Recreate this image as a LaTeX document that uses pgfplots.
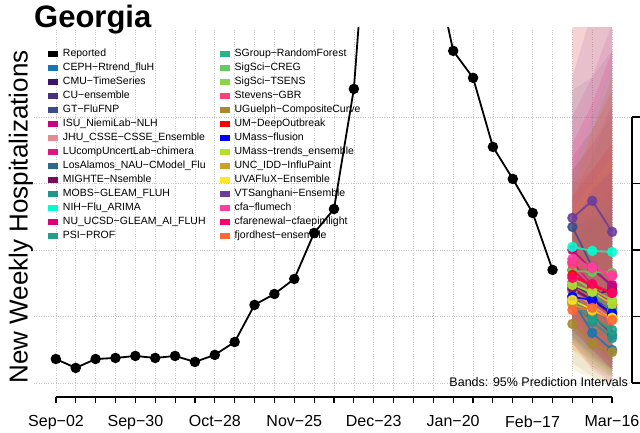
\documentclass[border=0pt]{standalone}
\usepackage{fontspec}
\setmainfont{Liberation Sans}
\usepackage{pgfplots}
\pgfplotsset{compat=1.18}

\definecolor{cCEPH}{HTML}{1878B4}
\definecolor{cCMU}{HTML}{3E1269}
\definecolor{cCU}{HTML}{48307E}
\definecolor{cGT}{HTML}{3C4C8B}
\definecolor{cISU}{HTML}{CC0085}
\definecolor{cJHU}{HTML}{E68A96}
\definecolor{cLU}{HTML}{DE1681}
\definecolor{cLA}{HTML}{2C6A8F}
\definecolor{cMIG}{HTML}{7A0E5A}
\definecolor{cMOBS}{HTML}{20958C}
\definecolor{cNIH}{HTML}{00FFD0}
\definecolor{cNU}{HTML}{E00078}
\definecolor{cPSI}{HTML}{22A085}
\definecolor{cSG}{HTML}{27B583}
\definecolor{cCREG}{HTML}{62CC5E}
\definecolor{cTSENS}{HTML}{8AD44A}
\definecolor{cSTE}{HTML}{FF3F7A}
\definecolor{cUG}{HTML}{A8892F}
\definecolor{cUM}{HTML}{FF0000}
\definecolor{cUMF}{HTML}{0000FF}
\definecolor{cUMT}{HTML}{B5E02A}
\definecolor{cUNC}{HTML}{C9A227}
\definecolor{cUVA}{HTML}{FFE61F}
\definecolor{cVT}{HTML}{6A3D9A}
\definecolor{cCFA}{HTML}{FF3EA0}
\definecolor{cCFR}{HTML}{FF0068}
\definecolor{cFJ}{HTML}{FF6633}

\pgfplotsset{sq/.style={legend image code/.code={\fill[##1] (0pt,-3pt) rectangle (10pt,3pt);}}}

\newcommand{\band}[7]{\addplot[draw=none, fill=#1, fill opacity=0.12, forget plot] coordinates {(26,#2) (27,#3) (28,#4) (28,#7) (27,#6) (26,#5)} -- cycle;}
\newcommand{\fcast}[4]{\addplot[color=#1, opacity=0.85, line width=1.8pt, mark=*, mark size=4.3pt, forget plot] coordinates {(26,#2) (27,#3) (28,#4)};}

\begin{document}
\begin{tikzpicture}
\useasboundingbox (0,0) rectangle (640pt,433pt);

\begin{axis}[
  at={(34pt,43pt)}, anchor=south west, scale only axis,
  width=600pt, height=362pt,
  xmin=-1.1, xmax=29.1, ymin=-53, ymax=2669,
  xtick={0,...,28}, ytick={0,500,1000,1500,2000},
  xticklabels={}, yticklabels={},
  xmajorgrids, ymajorgrids,
  grid style={dotted, line width=0.7pt, color=black!22},
  axis line style={draw=none}, major tick length=0pt,
  clip=true,
  legend columns=2,
  legend cell align=left,
  legend style={at={(axis description cs:0.0233,0.9467)}, anchor=north west,
    draw=none, fill=none, inner sep=0pt, outer sep=0pt,
    font=\fontsize{10.5}{12}\selectfont, row sep=0pt,
    nodes={inner sep=0pt, text height=9.5pt, text depth=4.5pt},
    /tikz/every odd column/.append style={column sep=5pt},
    /tikz/every even column/.append style={column sep=14pt}},
]
\addlegendimage{sq, fill=black, draw=none}\addlegendentry{Reported}
\addlegendimage{sq, fill=cSG, draw=none}\addlegendentry{SGroup−RandomForest}
\addlegendimage{sq, fill=cCEPH, draw=none}\addlegendentry{CEPH−Rtrend\_fluH}
\addlegendimage{sq, fill=cCREG, draw=none}\addlegendentry{SigSci−CREG}
\addlegendimage{sq, fill=cCMU, draw=none}\addlegendentry{CMU−TimeSeries}
\addlegendimage{sq, fill=cTSENS, draw=none}\addlegendentry{SigSci−TSENS}
\addlegendimage{sq, fill=cCU, draw=none}\addlegendentry{CU−ensemble}
\addlegendimage{sq, fill=cSTE, draw=none}\addlegendentry{Stevens−GBR}
\addlegendimage{sq, fill=cGT, draw=none}\addlegendentry{GT−FluFNP}
\addlegendimage{sq, fill=cUG, draw=none}\addlegendentry{UGuelph−CompositeCurve}
\addlegendimage{sq, fill=cISU, draw=none}\addlegendentry{ISU\_NiemiLab−NLH}
\addlegendimage{sq, fill=cUM, draw=none}\addlegendentry{UM−DeepOutbreak}
\addlegendimage{sq, fill=cJHU, draw=none}\addlegendentry{JHU\_CSSE−CSSE\_Ensemble}
\addlegendimage{sq, fill=cUMF, draw=none}\addlegendentry{UMass−flusion}
\addlegendimage{sq, fill=cLU, draw=none}\addlegendentry{LUcompUncertLab−chimera}
\addlegendimage{sq, fill=cUMT, draw=none}\addlegendentry{UMass−trends\_ensemble}
\addlegendimage{sq, fill=cLA, draw=none}\addlegendentry{LosAlamos\_NAU−CModel\_Flu}
\addlegendimage{sq, fill=cUNC, draw=none}\addlegendentry{UNC\_IDD−InfluPaint}
\addlegendimage{sq, fill=cMIG, draw=none}\addlegendentry{MIGHTE−Nsemble}
\addlegendimage{sq, fill=cUVA, draw=none}\addlegendentry{UVAFluX−Ensemble}
\addlegendimage{sq, fill=cMOBS, draw=none}\addlegendentry{MOBS−GLEAM\_FLUH}
\addlegendimage{sq, fill=cVT, draw=none}\addlegendentry{VTSanghani−Ensemble}
\addlegendimage{sq, fill=cNIH, draw=none}\addlegendentry{NIH−Flu\_ARIMA}
\addlegendimage{sq, fill=cCFA, draw=none}\addlegendentry{cfa−flumech}
\addlegendimage{sq, fill=cNU, draw=none}\addlegendentry{NU\_UCSD−GLEAM\_AI\_FLUH}
\addlegendimage{sq, fill=cCFR, draw=none}\addlegendentry{cfarenewal−cfaepimlight}
\addlegendimage{sq, fill=cPSI, draw=none}\addlegendentry{PSI−PROF}
\addlegendimage{sq, fill=cFJ, draw=none}\addlegendentry{fjordhest−ensemble}

% 95% prediction bands: lo(h1,h2,h3), hi(h1,h2,h3)
\band{cCEPH}{300}{120}{40}{1200}{1300}{1500}
\band{cCMU}{380}{250}{150}{1400}{1700}{2100}
\band{cCU}{330}{200}{100}{1600}{1800}{2000}
\band{cGT}{600}{300}{150}{2200}{2300}{2500}
\band{cISU}{450}{280}{120}{2000}{2300}{2700}
\band{cJHU}{250}{120}{0}{2800}{3000}{3200}
\band{cLU}{500}{300}{150}{1500}{1600}{1800}
\band{cLA}{350}{200}{80}{1200}{1250}{1300}
\band{cMIG}{400}{250}{120}{1300}{1500}{1700}
\band{cMOBS}{300}{150}{50}{1100}{1200}{1300}
\band{cNIH}{600}{400}{250}{1600}{2000}{2400}
\band{cNU}{450}{250}{100}{1700}{1900}{2200}
\band{cPSI}{320}{180}{60}{1150}{1250}{1350}
\band{cSG}{400}{250}{100}{1250}{1300}{1400}
\band{cCREG}{450}{300}{150}{1500}{1900}{2300}
\band{cTSENS}{400}{250}{120}{1500}{1700}{2000}
\band{cSTE}{500}{350}{200}{1600}{1800}{2100}
\band{cUG}{150}{50}{-20}{1100}{1000}{1000}
\band{cUM}{450}{300}{180}{1400}{1600}{1800}
\band{cUMF}{350}{220}{100}{1200}{1450}{1600}
\band{cUMT}{300}{150}{50}{1600}{1900}{2200}
\band{cUNC}{100}{30}{0}{2700}{2900}{3000}
\band{cUVA}{250}{120}{40}{1300}{1500}{1700}
\band{cVT}{700}{600}{400}{2300}{2800}{2900}
\band{cCFA}{300}{100}{0}{2900}{3100}{3300}
\band{cCFR}{400}{250}{100}{1800}{2100}{2500}
\band{cFJ}{250}{180}{80}{1400}{1900}{2300}

% Reported
\addplot[black, line width=1.8pt, mark=*, mark size=4.3pt, forget plot] coordinates {
(0,180) (1,113) (2,180) (3,188) (4,203) (5,188) (6,203) (7,158) (8,211)
(9,308) (10,587) (11,669) (12,782) (13,1128) (14,1308) (15,2211)
(16,4200) (17,4700) (18,4500) (19,3190) (20,2497) (21,2294) (22,1775)
(23,1534) (24,1278) (25,850)};

% Forecast medians
\fcast{cCEPH}{624}{376}{248}
\fcast{cCMU}{737}{662}{699}
\fcast{cCU}{699}{624}{564}
\fcast{cGT}{1173}{872}{722}
\fcast{cISU}{1000}{850}{737}
\fcast{cJHU}{684}{587}{474}
\fcast{cLU}{910}{737}{587}
\fcast{cLA}{654}{511}{361}
\fcast{cMIG}{714}{624}{511}
\fcast{cMOBS}{602}{459}{338}
\fcast{cNIH}{1023}{993}{985}
\fcast{cNU}{850}{714}{587}
\fcast{cPSI}{624}{489}{399}
\fcast{cSG}{760}{662}{549}
\fcast{cCREG}{842}{835}{827}
\fcast{cTSENS}{797}{699}{624}
\fcast{cSTE}{895}{865}{805}
\fcast{cUG}{444}{293}{233}
\fcast{cUM}{812}{729}{677}
\fcast{cUMF}{647}{624}{526}
\fcast{cUMT}{737}{684}{594}
\fcast{cUNC}{587}{541}{489}
\fcast{cUVA}{624}{549}{489}
\fcast{cVT}{1241}{1369}{1136}
\fcast{cCFA}{932}{872}{812}
\fcast{cCFR}{790}{744}{677}
\fcast{cFJ}{549}{564}{474}

\node[anchor=base east, font=\fontsize{12.5}{14}\selectfont, inner sep=0pt] at (axis description cs:0.99,0.01) {Bands: 95\% Prediction Intervals};
\end{axis}

% bottom time axis
\begin{axis}[
  at={(56pt,36pt)}, anchor=south west, scale only axis,
  width=556pt, height=10pt,
  xmin=0, xmax=28, ymin=0, ymax=1,
  axis x line*=bottom, axis y line=none,
  xtick={0,...,28},
  xticklabels={Sep−02,,,,Sep−30,,,,Oct−28,,,,Nov−25,,,,Dec−23,,,,Jan−20,,,,Feb−17,,,,Mar−16},
  tick align=outside, major tick length=6pt,
  tick style={line width=1.2pt, black},
  axis line style={line width=1.2pt, black},
  xticklabel style={font=\fontsize{16}{16}\selectfont, yshift=-9pt},
]
\addplot[draw=none, forget plot] coordinates {(0,0)};
\end{axis}

% right value axis (labels fall outside the picture)
\begin{axis}[
  at={(632pt,50pt)}, anchor=south east, scale only axis,
  width=10pt, height=266pt,
  xmin=0, xmax=1, ymin=0, ymax=2000,
  axis y line*=right, axis x line=none,
  ytick={0,500,1000,1500,2000}, yticklabels={},
  tick align=outside, major tick length=8pt,
  tick style={line width=1.2pt, black},
  axis line style={line width=1.2pt, black},
]
\addplot[draw=none, forget plot] coordinates {(0,0)};
\end{axis}

\node[anchor=base west, font=\fontsize{31}{31}\selectfont\bfseries, inner sep=0pt] at (34pt,405pt) {Georgia};
\node[rotate=90, font=\fontsize{26}{26}\selectfont, inner sep=0pt] at (21pt,216pt) {New Weekly Hospitalizations};
\end{tikzpicture}
\end{document}
